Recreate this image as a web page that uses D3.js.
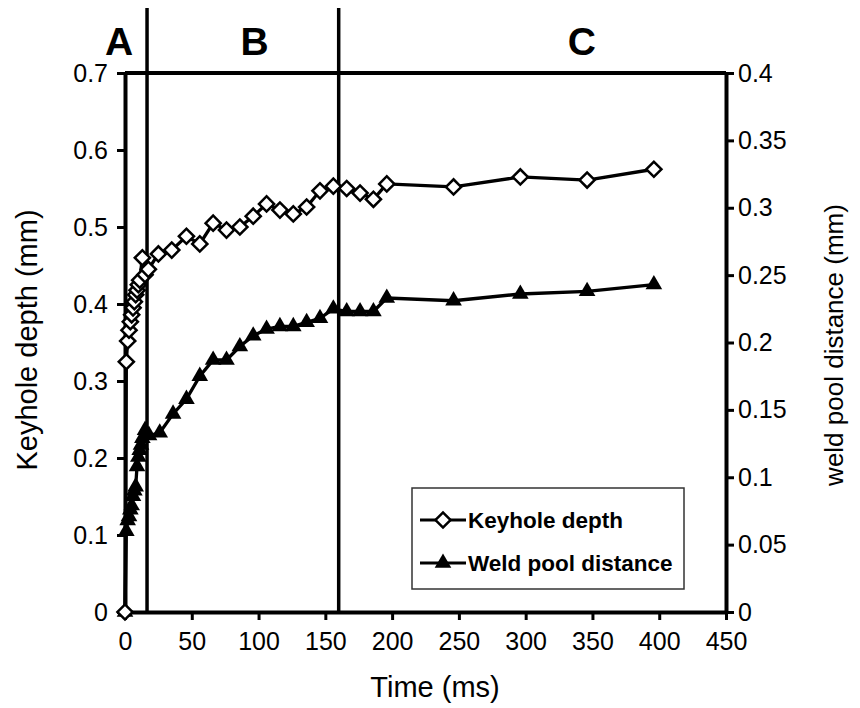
<!DOCTYPE html>
<html>
<head>
<meta charset="utf-8">
<script src="https://cdn.jsdelivr.net/npm/d3@7"></script>
<style>
  body { margin: 0; background: #fff; }
  svg { display: block; font-family: "Liberation Sans", Arial, sans-serif; }
</style>
</head>
<body>
<svg id="chart" width="860" height="708"></svg>
<script>
// time (ms) and keyhole depth (mm), left axis
const keyholeTime = [0, 1, 2, 3, 4, 5, 6, 7, 8, 9, 10, 11, 13, 15, 17.5, 25, 35, 46, 56, 66, 76, 86, 96, 106, 116, 126, 136, 146, 156, 166, 176, 186, 196, 246, 296, 346, 396];
const keyholeDepth = [0, 0.325, 0.352, 0.366, 0.377, 0.386, 0.395, 0.403, 0.412, 0.418, 0.425, 0.431, 0.46, 0.438, 0.445, 0.465, 0.47, 0.488, 0.478, 0.505, 0.496, 0.5, 0.514, 0.53, 0.522, 0.517, 0.526, 0.547, 0.553, 0.55, 0.544, 0.536, 0.556, 0.552, 0.565, 0.561, 0.575];

// time (ms) and weld pool distance (mm), right axis
const poolTime = [0, 1, 2, 3, 4, 5, 6, 7, 8, 9, 10, 11, 12, 13, 15, 18, 26, 36, 46, 56, 66, 76, 86, 96, 106, 116, 126, 136, 146, 156, 166, 176, 186, 196, 246, 296, 346, 396];
const poolDistance = [0, 0.06, 0.068, 0.071, 0.076, 0.079, 0.086, 0.09, 0.093, 0.108, 0.115, 0.12, 0.124, 0.129, 0.135, 0.131, 0.133, 0.147, 0.158, 0.175, 0.187, 0.187, 0.197, 0.205, 0.21, 0.212, 0.212, 0.215, 0.218, 0.225, 0.223, 0.223, 0.223, 0.233, 0.231, 0.236, 0.238, 0.243];

const xTicks = [0, 50, 100, 150, 200, 250, 300, 350, 400, 450];
const leftTicks = [0, 0.1, 0.2, 0.3, 0.4, 0.5, 0.6, 0.7];
const rightTicks = [0, 0.05, 0.1, 0.15, 0.2, 0.25, 0.3, 0.35, 0.4];

// stage boundaries (ms) and their labels
const stageLines = [16.5, 160];
const stageNames = ['A', 'B', 'C'];
const stageLabelTimes = [-4.5, 97, 342];

const svg = d3.select('#chart');
const plotLeft = 125, plotRight = 726, plotTop = 73, plotBottom = 612;

const x = d3.scaleLinear().domain([0, 450]).range([plotLeft, plotRight]);
const yL = d3.scaleLinear().domain([0, 0.7]).range([plotBottom, plotTop]);
const yR = d3.scaleLinear().domain([0, 0.4]).range([plotBottom, plotTop]);

const keyhole = keyholeTime.map((t, i) => ({ t, v: keyholeDepth[i] }));
const pool = poolTime.map((t, i) => ({ t, v: poolDistance[i] }));

// top border of plot area
svg.append('line')
  .attr('x1', plotLeft).attr('x2', plotRight)
  .attr('y1', plotTop).attr('y2', plotTop)
  .attr('stroke', '#000').attr('stroke-width', 4);

// axes
const fmt = d => d === 0 ? '0' : String(d);
const styleAxis = (g) => {
  g.select('.domain').attr('stroke', '#000').attr('stroke-width', 4);
  g.selectAll('.tick line').attr('stroke', '#000').attr('stroke-width', 3);
  g.selectAll('.tick text').attr('fill', '#000').style('font-size', '25px');
};

svg.append('g')
  .attr('transform', `translate(0,${plotBottom})`)
  .call(d3.axisBottom(x).tickValues(xTicks).tickFormat(fmt).tickSize(8).tickSizeOuter(0).tickPadding(12))
  .call(styleAxis);

svg.append('g')
  .attr('transform', `translate(${plotLeft},0)`)
  .call(d3.axisLeft(yL).tickValues(leftTicks).tickFormat(fmt).tickSize(8).tickSizeOuter(0).tickPadding(9))
  .call(styleAxis);

svg.append('g')
  .attr('transform', `translate(${plotRight},0)`)
  .call(d3.axisRight(yR).tickValues(rightTicks).tickFormat(fmt).tickSize(8).tickSizeOuter(0).tickPadding(4))
  .call(styleAxis);

// stage separators
svg.selectAll('.stage')
  .data(stageLines)
  .enter().append('line')
  .attr('x1', d => x(d)).attr('x2', d => x(d))
  .attr('y1', 8).attr('y2', plotBottom)
  .attr('stroke', '#000').attr('stroke-width', 3.5);

svg.selectAll('.stageName')
  .data(stageNames)
  .enter().append('text')
  .attr('x', (d, i) => x(stageLabelTimes[i]))
  .attr('y', 55)
  .attr('text-anchor', 'middle')
  .style('font-size', '39px').style('font-weight', 'bold')
  .text(d => d);

// series lines
const lineL = d3.line().x(d => x(d.t)).y(d => yL(d.v));
const lineR = d3.line().x(d => x(d.t)).y(d => yR(d.v));

svg.append('path').datum(keyhole)
  .attr('d', lineL).attr('fill', 'none').attr('stroke', '#000').attr('stroke-width', 3.3);
svg.append('path').datum(pool)
  .attr('d', lineR).attr('fill', 'none').attr('stroke', '#000').attr('stroke-width', 3.3);

const diamond = d3.symbol().type(d3.symbolSquare).size(115);
const triangle = d3.symbol().type(d3.symbolTriangle).size(120);

svg.selectAll('.tri')
  .data(pool)
  .enter().append('path')
  .attr('d', triangle)
  .attr('transform', d => `translate(${x(d.t)},${yR(d.v)})`)
  .attr('fill', '#000');

svg.selectAll('.dia')
  .data(keyhole)
  .enter().append('path')
  .attr('d', diamond)
  .attr('transform', d => `translate(${x(d.t)},${yL(d.v)}) rotate(45)`)
  .attr('fill', '#fff').attr('stroke', '#000').attr('stroke-width', 2.5);

// axis titles
svg.append('text')
  .attr('x', 435).attr('y', 697)
  .attr('text-anchor', 'middle')
  .style('font-size', '29px')
  .text('Time (ms)');

svg.append('text')
  .attr('transform', 'translate(37,340) rotate(-90)')
  .attr('text-anchor', 'middle')
  .style('font-size', '29px')
  .text('Keyhole depth (mm)');

svg.append('text')
  .attr('transform', 'translate(843,345) rotate(-90)')
  .attr('text-anchor', 'middle')
  .style('font-size', '26px')
  .text('weld pool distance (mm)');

// legend
const legend = svg.append('g');
legend.append('rect')
  .attr('x', 412).attr('y', 488).attr('width', 272).attr('height', 101)
  .attr('fill', '#fff').attr('stroke', '#333').attr('stroke-width', 1.5);

const legendItems = [
  { label: 'Keyhole depth', sym: diamond, fill: '#fff', rot: 45, y: 520 },
  { label: 'Weld pool distance', sym: triangle, fill: '#000', rot: 0, y: 563 }
];
legendItems.forEach(item => {
  legend.append('line')
    .attr('x1', 420).attr('x2', 466).attr('y1', item.y).attr('y2', item.y)
    .attr('stroke', '#000').attr('stroke-width', 3);
  legend.append('path')
    .attr('d', item.sym())
    .attr('transform', `translate(443,${item.y}) rotate(${item.rot})`)
    .attr('fill', item.fill).attr('stroke', '#000').attr('stroke-width', item.fill === '#fff' ? 2.5 : 0);
  legend.append('text')
    .attr('x', 468).attr('y', item.y + 8)
    .style('font-size', '22.5px').style('font-weight', 'bold')
    .text(item.label);
});
</script>
</body>
</html>
